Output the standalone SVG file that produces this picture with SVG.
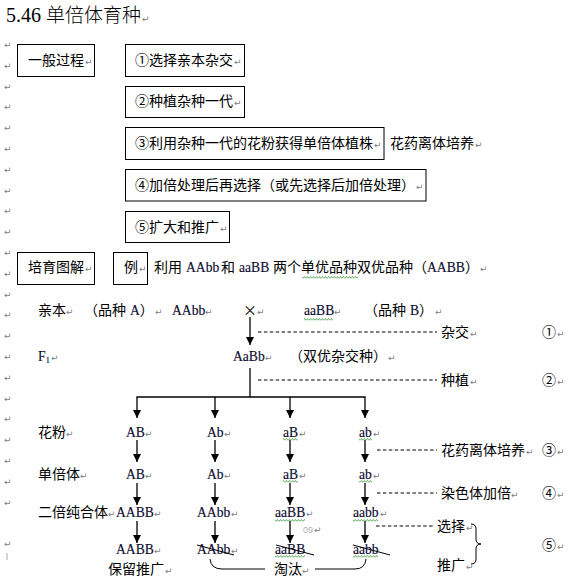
<svg xmlns="http://www.w3.org/2000/svg" width="586" height="580" viewBox="0 0 586 580">
<defs>
<style>
.cn{font-family:"Noto Sans CJK SC","Noto Sans",sans-serif;font-size:14px;fill:#000}
.lat{font-family:"Liberation Serif","Times New Roman",serif;font-size:13.6px;fill:#0c0c30;stroke:#0c0c30;stroke-width:0.15}
.pm{font-family:"DejaVu Sans",sans-serif;font-size:9px;fill:#808080}
.box{fill:#fff;stroke:#000;stroke-width:1}
.ln{stroke:#000;stroke-width:1.3;fill:none}
.arr{stroke:#000;stroke-width:1.3;fill:none;marker-end:url(#ah)}
.dash{stroke:#000;stroke-width:1;stroke-dasharray:3.5 2.4;fill:none}
.thin{stroke:#000;stroke-width:1;fill:none}
.wave{fill:url(#wv)}
</style>
<marker id="ah" markerUnits="userSpaceOnUse" markerWidth="9" markerHeight="9" refX="8" refY="4" orient="auto"><path d="M0,0 L8,4 L0,8 z" fill="#000"/></marker>
<pattern id="wv" patternUnits="userSpaceOnUse" width="3" height="3"><path d="M0,2.5 L1.5,0.5 L3,2.5" fill="none" stroke="#3a9c3a" stroke-width="0.8"/></pattern>
</defs>
<rect width="586" height="580" fill="#fff"/>

<g id="title">
<text x="6" y="22" font-family="Liberation Serif, serif" font-size="20">5.46</text>
<text x="46" y="22" class="cn" style="font-size:19px;font-weight:300">单倍体育种</text>
<text x="142" y="22" class="pm">↵</text>
</g>

<g id="margin-marks">
<text class="pm"><tspan x="4" y="48">↵</tspan><tspan x="4" y="68.8">↵</tspan><tspan x="4" y="89.6">↵</tspan><tspan x="4" y="110.4">↵</tspan><tspan x="4" y="131.2">↵</tspan><tspan x="4" y="152">↵</tspan><tspan x="4" y="172.8">↵</tspan><tspan x="4" y="193.6">↵</tspan><tspan x="4" y="214.4">↵</tspan><tspan x="4" y="235.2">↵</tspan><tspan x="4" y="256">↵</tspan><tspan x="4" y="276.8">↵</tspan><tspan x="4" y="297.6">↵</tspan><tspan x="4" y="318.4">↵</tspan><tspan x="4" y="339.2">↵</tspan><tspan x="4" y="360">↵</tspan><tspan x="4" y="380.8">↵</tspan><tspan x="4" y="401.6">↵</tspan><tspan x="4" y="422.4">↵</tspan><tspan x="4" y="443.2">↵</tspan><tspan x="4" y="464">↵</tspan><tspan x="4" y="484.8">↵</tspan><tspan x="4" y="505.6">↵</tspan><tspan x="4" y="547.2">↵</tspan></text>
<line x1="7" y1="553" x2="7" y2="560" stroke="#aaa" stroke-width="1"/>
</g>

<g id="box-general"><rect class="box" x="17.5" y="44.5" width="77" height="32"/><text class="cn" x="28" y="65">一般过程</text><text class="pm" x="85" y="65">↵</text></g>
<g id="box-step1"><rect class="box" x="125.5" y="44.5" width="119" height="32"/><text class="cn" x="135" y="65">①选择亲本杂交</text><text class="pm" x="234" y="65">↵</text></g>
<g id="box-step2"><rect class="box" x="125.5" y="86.5" width="119" height="31"/><text class="cn" x="135" y="106">②种植杂种一代</text><text class="pm" x="234" y="106">↵</text></g>
<g id="box-step3"><rect class="box" x="125.5" y="127.5" width="258.5" height="32"/><text class="cn" x="135" y="148">③利用杂种一代的花粉获得单倍体植株</text><text class="pm" x="374" y="148">↵</text></g>
<g id="note-step3"><text class="cn" x="390" y="148">花药离体培养</text><text class="pm" x="475" y="148">↵</text></g>
<g id="box-step4"><rect class="box" x="125.5" y="169.5" width="300.5" height="31.5"/><text class="cn" x="135" y="190">④加倍处理后再选择（或先选择后加倍处理）</text><text class="pm" x="416" y="190">↵</text></g>
<g id="box-step5"><rect class="box" x="125.5" y="211.5" width="104" height="31"/><text class="cn" x="135" y="232">⑤扩大和推广</text><text class="pm" x="220" y="232">↵</text></g>
<g id="box-diagram"><rect class="box" x="17.5" y="252.5" width="77" height="32"/><text class="cn" x="28" y="272">培育图解</text><text class="pm" x="85" y="272">↵</text></g>
<g id="box-example"><rect class="box" x="113.5" y="252.5" width="34" height="32"/><text class="cn" x="124" y="272">例</text><text class="pm" x="139" y="272">↵</text></g>
<g id="example-text">
<text class="cn" x="154" y="272">利用</text>
<text class="lat" x="186" y="272">AAbb</text>
<text class="cn" x="221" y="272">和</text>
<text class="lat" x="239" y="272">aaBB</text>
<text class="cn" x="273" y="272">两个单优品种双优品种（</text>
<text class="lat" x="427" y="272">AABB</text>
<text class="cn" x="465" y="272">）</text>
<text class="pm" x="480" y="272">↵</text>
<rect class="wave" x="302" y="276" width="56" height="3"/>
</g>

<g id="connectors">
<line class="arr" x1="250" y1="317" x2="250" y2="345"/>
<line class="ln" x1="250" y1="368" x2="250" y2="397"/>
<line class="ln" x1="136.4" y1="397" x2="365.6" y2="397"/>
<line class="arr" x1="137" y1="397" x2="137" y2="418"/>
<line class="arr" x1="215" y1="397" x2="215" y2="418"/>
<line class="arr" x1="290" y1="397" x2="290" y2="418"/>
<line class="arr" x1="365" y1="397" x2="365" y2="418"/>
<line class="arr" x1="137" y1="440" x2="137" y2="462"/>
<line class="arr" x1="215" y1="440" x2="215" y2="462"/>
<line class="arr" x1="290" y1="440" x2="290" y2="462"/>
<line class="arr" x1="365" y1="440" x2="365" y2="462"/>
<line class="arr" x1="137" y1="483" x2="137" y2="505"/>
<line class="arr" x1="215" y1="483" x2="215" y2="505"/>
<line class="arr" x1="290" y1="483" x2="290" y2="505"/>
<line class="arr" x1="365" y1="483" x2="365" y2="505"/>
<line class="arr" x1="137" y1="521" x2="137" y2="543"/>
<line class="arr" x1="215" y1="521" x2="215" y2="543"/>
<line class="arr" x1="290" y1="521" x2="290" y2="543"/>
<line class="arr" x1="365" y1="521" x2="365" y2="543"/>
<line class="dash" x1="258" y1="332" x2="437" y2="332"/>
<line class="dash" x1="258" y1="380" x2="437" y2="380"/>
<line class="dash" x1="377" y1="450" x2="437" y2="450"/>
<line class="dash" x1="377" y1="493" x2="437" y2="493"/>
<line class="dash" x1="376" y1="526" x2="435" y2="526"/>
<path class="thin" d="M210,559 Q211,569 222,569 H265"/>
<path class="thin" d="M315,569 H355 Q365,569 366,559"/>
<path class="thin" d="M471,524 Q476,524 476,529 V539 Q476,544 481,544 Q476,544 476,549 V559 Q476,564 471,564"/>
</g>

<g id="parents">
<text class="cn" x="38" y="315">亲本</text><text class="pm" x="66" y="315">↵</text>
<text class="cn" x="84" y="315">（品种<tspan class="lat" dx="4">A</tspan>）</text><text class="pm" x="155" y="315">↵</text>
<text class="lat" x="172" y="315">AAbb</text><text class="pm" x="205" y="315">↵</text>
<text class="cn" x="250" y="315" text-anchor="middle">×</text><text class="pm" x="257" y="315">↵</text>
<text class="lat" x="304" y="315">aaBB</text><text class="pm" x="334" y="315">↵</text>
<rect class="wave" x="304" y="318" width="29" height="3"/>
<text class="cn" x="364" y="315">（品种<tspan class="lat" dx="4">B</tspan>）</text><text class="pm" x="435" y="315">↵</text>
</g>

<g id="f1">
<text class="lat" x="38" y="361">F<tspan font-size="9" dy="2">1</tspan></text><text class="pm" x="51" y="361">↵</text>
<text class="lat" x="233" y="361">AaBb</text><text class="pm" x="265" y="361">↵</text>
<text class="cn" x="289" y="361">（双优杂交种）</text><text class="pm" x="388" y="361">↵</text>
</g>

<g id="steps-right">
<text class="cn" x="441" y="337">杂交</text><text class="pm" x="470" y="337">↵</text>
<text class="cn" x="542" y="337">①</text><text class="pm" x="557" y="337">↵</text>
<text class="cn" x="441" y="385">种植</text><text class="pm" x="470" y="385">↵</text>
<text class="cn" x="542" y="385">②</text><text class="pm" x="557" y="385">↵</text>
<text class="cn" x="441" y="455">花药离体培养</text><text class="pm" x="526" y="455">↵</text>
<text class="cn" x="542" y="455">③</text><text class="pm" x="557" y="455">↵</text>
<text class="cn" x="441" y="498">染色体加倍</text><text class="pm" x="511" y="498">↵</text>
<text class="cn" x="542" y="498">④</text><text class="pm" x="557" y="498">↵</text>
<text class="cn" x="437" y="531">选择</text><text class="pm" x="466" y="531">↵</text>
<text class="cn" x="437" y="570">推广</text><text class="pm" x="466" y="570">↵</text>
<text class="cn" x="542" y="550">⑤</text><text class="pm" x="557" y="550">↵</text>
</g>

<g id="pollen">
<text class="cn" x="38" y="437">花粉</text><text class="pm" x="66" y="437">↵</text>
<text class="lat" x="126" y="437">AB</text><text class="pm" x="145" y="437">↵</text>
<text class="lat" x="207" y="437">Ab</text><text class="pm" x="224" y="437">↵</text>
<text class="lat" x="283" y="437">aB</text><text class="pm" x="299" y="437">↵</text>
<text class="lat" x="359" y="437">ab</text><text class="pm" x="373" y="437">↵</text>
<rect class="wave" x="283" y="438" width="15" height="3"/>
<rect class="wave" x="359" y="438" width="13" height="3"/>
</g>

<g id="haploid">
<text class="cn" x="38" y="479">单倍体</text><text class="pm" x="80" y="479">↵</text>
<text class="lat" x="126" y="479">AB</text><text class="pm" x="145" y="479">↵</text>
<text class="lat" x="207" y="479">Ab</text><text class="pm" x="224" y="479">↵</text>
<text class="lat" x="283" y="479">aB</text><text class="pm" x="299" y="479">↵</text>
<text class="lat" x="359" y="479">ab</text><text class="pm" x="373" y="479">↵</text>
<rect class="wave" x="283" y="480" width="15" height="3"/>
<rect class="wave" x="359" y="480" width="13" height="3"/>
</g>

<g id="diploid">
<text class="cn" x="38" y="517">二倍纯合体</text><text class="pm" x="108" y="517">↵</text>
<text class="lat" x="116" y="517">AABB</text><text class="pm" x="154" y="517">↵</text>
<text class="lat" x="197" y="517">AAbb</text><text class="pm" x="231" y="517">↵</text>
<text class="lat" x="275" y="517">aaBB</text><text class="pm" x="306" y="517">↵</text>
<text class="lat" x="353" y="517">aabb</text><text class="pm" x="380" y="517">↵</text>
<rect class="wave" x="275" y="519" width="30" height="3"/>
<rect class="wave" x="353" y="519" width="25" height="3"/>
<text x="303" y="533" font-family="Liberation Sans, sans-serif" font-size="9" fill="#b0b0b0">09</text><text class="pm" x="314" y="533">↵</text>
</g>

<g id="selected">
<text class="lat" x="116" y="554">AABB</text><text class="pm" x="154" y="554">↵</text>
<text class="lat" x="197" y="554">AAbb</text><text class="pm" x="231" y="554">↵</text>
<text class="lat" x="275" y="554">aaBB</text>
<text class="lat" x="353" y="554">aabb</text>
<rect class="wave" x="275" y="555" width="30" height="3"/>
<rect class="wave" x="353" y="555" width="25" height="3"/>
<line class="thin" x1="197" y1="545" x2="234" y2="555"/>
<line class="thin" x1="276" y1="545" x2="314" y2="555"/>
<line class="thin" x1="353" y1="545" x2="390" y2="555"/>
<text class="cn" x="108" y="574">保留推广</text><text class="pm" x="165" y="574">↵</text>
<text class="cn" x="274" y="574">淘汰</text><text class="pm" x="302" y="574">↵</text>
</g>
</svg>
